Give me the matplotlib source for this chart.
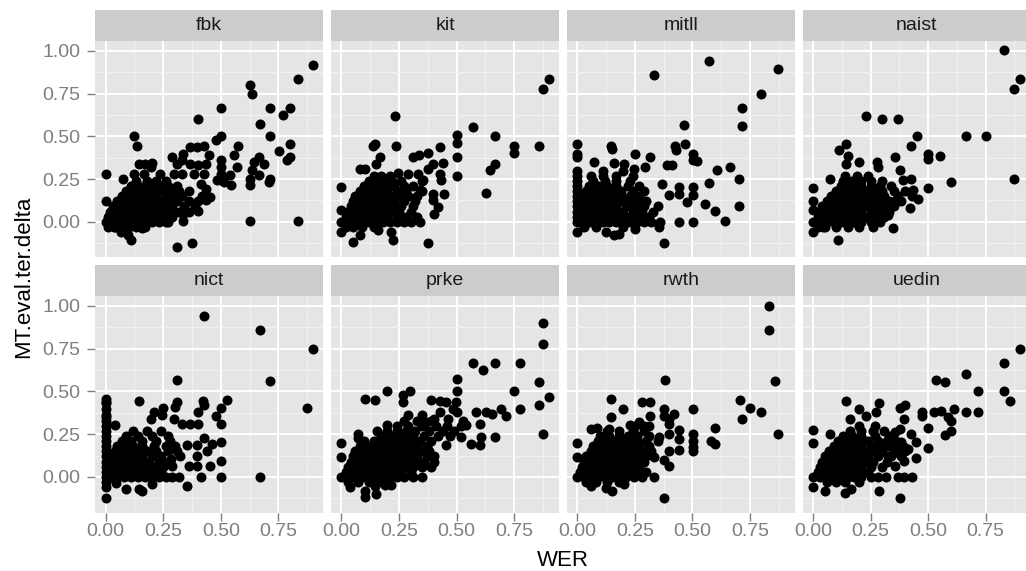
import matplotlib
matplotlib.use('Agg')
import matplotlib.pyplot as plt

plt.rcParams['font.family'] = ['Liberation Sans', 'DejaVu Sans']

panel_names = ["fbk", "kit", "mitll", "naist", "nict", "prke", "rwth", "uedin"]
x_ticks = [0.0, 0.25, 0.5, 0.75]
x_tick_labels = ["0.00", "0.25", "0.50", "0.75"]
y_ticks = [0.0, 0.25, 0.5, 0.75, 1.0]
y_tick_labels = ["0.00", "0.25", "0.50", "0.75", "1.00"]
x_minor = [0.125, 0.375, 0.625, 0.875]
y_minor = [-0.125, 0.125, 0.375, 0.625, 0.875]

fbk_points = [
    (0.900, 0.920), (0.834, 0.834), (0.626, 0.803), (0.637, 0.750), (0.501, 0.668), (0.715, 0.668),
    (0.802, 0.668), (0.770, 0.627), (0.400, 0.604), (0.669, 0.570), (0.501, 0.500), (0.481, 0.480),
    (0.715, 0.500), (0.802, 0.457), (0.751, 0.412), (0.799, 0.379), (0.788, 0.363), (0.123, 0.502),
    (0.134, 0.443), (0.574, 0.443), (0.559, 0.389), (0.368, 0.438), (0.397, 0.438), (0.429, 0.443),
    (0.337, 0.398), (0.448, 0.389), (0.289, 0.379), (0.665, 0.379), (0.643, 0.349), (0.686, 0.336),
    (0.366, 0.340), (0.400, 0.330), (0.434, 0.340), (0.501, 0.359), (0.501, 0.320), (0.501, 0.281),
    (0.501, 0.242), (0.484, 0.242), (0.513, 0.232), (0.542, 0.271), (0.571, 0.320), (0.545, 0.213),
    (0.636, 0.301), (0.626, 0.252), (0.626, 0.213), (0.665, 0.271), (0.708, 0.232), (0.715, 0.252),
    (0.626, 0.002), (0.834, 0.002), (0.003, 0.277), (0.074, 0.250), (0.003, 0.119), (0.145, 0.336),
    (0.173, 0.340), (0.202, 0.344), (0.123, 0.281), (0.166, 0.281), (0.238, 0.281), (0.195, 0.320),
    (0.296, 0.281), (0.332, 0.281), (0.311, 0.340), (0.332, 0.359), (0.383, 0.281), (0.426, 0.281),
    (0.412, 0.223), (0.434, 0.193), (0.455, 0.145), (0.434, 0.125), (0.400, 0.066), (0.337, 0.047),
    (0.337, 0.002), (0.308, -0.148), (0.376, -0.123), (0.108, -0.105), (0.097, -0.080), (0.159, -0.037),
    (0.065, -0.061), (0.036, -0.031), (0.260, -0.002),
    (0.01, -0.03), (0.04, -0.03), (0.07, -0.03), (0.10, -0.03), (0.13, -0.03), (0.17, -0.03),
    (0.00, 0.00), (0.02, 0.00), (0.05, 0.00), (0.08, 0.00), (0.11, 0.00), (0.14, 0.00), (0.17, 0.00),
    (0.20, 0.00), (0.23, 0.00), (0.27, 0.00),
    (0.01, 0.03), (0.04, 0.03), (0.07, 0.03), (0.10, 0.03), (0.13, 0.03), (0.16, 0.03), (0.19, 0.03),
    (0.22, 0.03), (0.25, 0.03), (0.29, 0.03),
    (0.02, 0.06), (0.05, 0.06), (0.08, 0.06), (0.11, 0.06), (0.14, 0.06), (0.17, 0.06), (0.20, 0.06),
    (0.24, 0.06), (0.28, 0.06), (0.32, 0.06), (0.36, 0.06),
    (0.03, 0.09), (0.06, 0.09), (0.09, 0.09), (0.12, 0.09), (0.15, 0.09), (0.18, 0.09), (0.21, 0.09),
    (0.25, 0.09), (0.29, 0.09), (0.34, 0.09), (0.39, 0.09),
    (0.05, 0.12), (0.08, 0.12), (0.11, 0.12), (0.14, 0.12), (0.17, 0.12), (0.20, 0.12), (0.23, 0.12),
    (0.27, 0.12), (0.31, 0.12), (0.36, 0.12), (0.40, 0.12),
    (0.07, 0.15), (0.10, 0.15), (0.13, 0.15), (0.16, 0.15), (0.19, 0.15), (0.22, 0.15), (0.26, 0.15),
    (0.30, 0.15), (0.33, 0.15), (0.42, 0.15),
    (0.09, 0.18), (0.12, 0.18), (0.15, 0.18), (0.18, 0.18), (0.21, 0.18), (0.25, 0.18), (0.29, 0.18),
    (0.32, 0.18), (0.36, 0.18),
    (0.11, 0.21), (0.14, 0.21), (0.17, 0.21), (0.20, 0.21), (0.24, 0.21), (0.27, 0.21), (0.31, 0.21),
    (0.13, 0.24), (0.18, 0.24), (0.22, 0.24), (0.26, 0.24),
]

kit_points = [
    (0.900, 0.834), (0.874, 0.779), (0.231, 0.617), (0.571, 0.555), (0.501, 0.506), (0.501, 0.461),
    (0.669, 0.500), (0.751, 0.443), (0.751, 0.402), (0.857, 0.445), (0.145, 0.453), (0.138, 0.445),
    (0.236, 0.445), (0.429, 0.438), (0.311, 0.379), (0.337, 0.389), (0.376, 0.402), (0.501, 0.379),
    (0.166, 0.379), (0.152, 0.340), (0.397, 0.340), (0.441, 0.344), (0.376, 0.311), (0.669, 0.336),
    (0.646, 0.301), (0.501, 0.266), (0.429, 0.281), (0.434, 0.242), (0.079, 0.311), (0.101, 0.311),
    (0.626, 0.168), (0.000, 0.203), (0.000, 0.070), (0.000, -0.061), (0.051, -0.119), (0.079, -0.080),
    (0.217, -0.061), (0.224, -0.109), (0.376, -0.123), (0.397, 0.164), (0.397, 0.125), (0.419, 0.086),
    (0.400, 0.047), (0.444, 0.164), (0.159, -0.047), (0.289, 0.281), (0.332, 0.281), (0.354, 0.242),
    (0.340, 0.188), (0.246, 0.285),
    (0.00, 0.00), (0.03, 0.00), (0.06, 0.00), (0.09, 0.00), (0.12, 0.00), (0.15, 0.00), (0.18, 0.00),
    (0.21, 0.00), (0.24, 0.00), (0.27, 0.00), (0.30, 0.00), (0.34, 0.00),
    (0.02, -0.03), (0.05, -0.03), (0.09, -0.03), (0.14, -0.03),
    (0.02, 0.03), (0.05, 0.03), (0.08, 0.03), (0.11, 0.03), (0.14, 0.03), (0.17, 0.03), (0.20, 0.03),
    (0.24, 0.03), (0.28, 0.03), (0.33, 0.03),
    (0.03, 0.06), (0.06, 0.06), (0.09, 0.06), (0.12, 0.06), (0.15, 0.06), (0.18, 0.06), (0.21, 0.06),
    (0.25, 0.06), (0.30, 0.06),
    (0.04, 0.09), (0.07, 0.09), (0.10, 0.09), (0.13, 0.09), (0.16, 0.09), (0.19, 0.09), (0.22, 0.09),
    (0.26, 0.09), (0.31, 0.09),
    (0.05, 0.12), (0.08, 0.12), (0.11, 0.12), (0.14, 0.12), (0.17, 0.12), (0.20, 0.12), (0.23, 0.12),
    (0.27, 0.12), (0.32, 0.12),
    (0.06, 0.15), (0.09, 0.15), (0.12, 0.15), (0.15, 0.15), (0.18, 0.15), (0.21, 0.15), (0.25, 0.15),
    (0.29, 0.15), (0.33, 0.15),
    (0.08, 0.18), (0.11, 0.18), (0.14, 0.18), (0.17, 0.18), (0.20, 0.18), (0.24, 0.18), (0.28, 0.18),
    (0.35, 0.18),
    (0.10, 0.21), (0.13, 0.21), (0.16, 0.21), (0.19, 0.21), (0.23, 0.21), (0.27, 0.21), (0.31, 0.21),
    (0.12, 0.24), (0.15, 0.24), (0.18, 0.24), (0.22, 0.24), (0.26, 0.24), (0.35, 0.24),
    (0.14, 0.27), (0.17, 0.27), (0.21, 0.27),
]

mitll_points = [
    (0.571, 0.939), (0.874, 0.891), (0.334, 0.857), (0.799, 0.750), (0.715, 0.668), (0.715, 0.559),
    (0.462, 0.564), (0.470, 0.453), (0.426, 0.443), (0.429, 0.418), (0.501, 0.398), (0.501, 0.363),
    (0.520, 0.355), (0.412, 0.330), (0.390, 0.330), (0.608, 0.301), (0.665, 0.320), (0.701, 0.250),
    (0.571, 0.227), (0.501, 0.203), (0.501, 0.154), (0.444, 0.203), (0.444, 0.164), (0.478, 0.115),
    (0.556, 0.105), (0.600, 0.066), (0.701, 0.092), (0.643, 0.002), (0.444, 0.000), (0.501, 0.000),
    (0.368, 0.223), (0.400, 0.154), (0.376, -0.123), (0.000, 0.457), (0.000, 0.398), (0.000, 0.379),
    (0.145, 0.443), (0.152, 0.428), (0.250, 0.398), (0.318, 0.379), (0.072, 0.350), (0.159, 0.344),
    (0.202, 0.336), (0.246, 0.311), (0.296, 0.320), (0.123, -0.061), (0.159, -0.076), (0.181, -0.070),
    (0.000, -0.057), (0.250, -0.041), (0.354, -0.031),
    (0.00, 0.00), (0.00, 0.03), (0.00, 0.06), (0.00, 0.09), (0.00, 0.12), (0.00, 0.15), (0.00, 0.18),
    (0.00, 0.21), (0.00, 0.24), (0.00, 0.27), (0.00, 0.30),
    (0.02, 0.00), (0.05, 0.00), (0.08, 0.00), (0.11, 0.00), (0.14, 0.00), (0.17, 0.00), (0.20, 0.00),
    (0.23, 0.00), (0.26, 0.00), (0.29, 0.00), (0.32, 0.00), (0.36, 0.00),
    (0.02, 0.03), (0.05, 0.03), (0.08, 0.03), (0.11, 0.03), (0.14, 0.03), (0.17, 0.03), (0.20, 0.03),
    (0.23, 0.03), (0.27, 0.03), (0.31, 0.03),
    (0.02, 0.06), (0.05, 0.06), (0.08, 0.06), (0.11, 0.06), (0.14, 0.06), (0.17, 0.06), (0.20, 0.06),
    (0.24, 0.06), (0.28, 0.06), (0.33, 0.06),
    (0.02, 0.09), (0.05, 0.09), (0.08, 0.09), (0.11, 0.09), (0.14, 0.09), (0.17, 0.09), (0.21, 0.09),
    (0.25, 0.09), (0.29, 0.09), (0.35, 0.09),
    (0.03, 0.12), (0.06, 0.12), (0.09, 0.12), (0.12, 0.12), (0.15, 0.12), (0.18, 0.12), (0.22, 0.12),
    (0.26, 0.12), (0.30, 0.12),
    (0.03, 0.15), (0.06, 0.15), (0.09, 0.15), (0.12, 0.15), (0.15, 0.15), (0.19, 0.15), (0.23, 0.15),
    (0.27, 0.15),
    (0.04, 0.18), (0.07, 0.18), (0.11, 0.18), (0.15, 0.18), (0.19, 0.18), (0.24, 0.18), (0.29, 0.18),
    (0.05, 0.21), (0.09, 0.21), (0.13, 0.21), (0.17, 0.21), (0.22, 0.21), (0.27, 0.21),
    (0.07, 0.24), (0.12, 0.24), (0.17, 0.24), (0.23, 0.24),
    (0.06, 0.27), (0.11, 0.27), (0.17, 0.27), (0.24, 0.27),
    (0.11, 0.30), (0.20, 0.30),
    (0.03, -0.03), (0.08, -0.03), (0.20, -0.03),
]

naist_points = [
    (0.831, 1.004), (0.900, 0.834), (0.874, 0.779), (0.231, 0.617), (0.299, 0.604), (0.371, 0.604),
    (0.452, 0.500), (0.665, 0.500), (0.751, 0.500), (0.426, 0.443), (0.499, 0.398), (0.499, 0.369),
    (0.553, 0.385), (0.354, 0.379), (0.874, 0.250), (0.600, 0.232), (0.499, 0.199), (0.376, 0.301),
    (0.142, 0.453), (0.111, 0.418), (0.152, 0.383), (0.145, 0.340), (0.198, 0.350), (0.276, 0.350),
    (0.282, 0.320), (0.072, 0.252), (0.000, 0.199), (0.000, 0.119), (0.000, 0.070), (0.000, -0.057),
    (0.108, -0.109), (0.347, -0.037), (0.419, 0.082), (0.455, 0.135), (0.434, 0.184), (0.390, 0.242),
    (0.426, 0.252), (0.361, 0.129), (0.318, 0.105), (0.325, 0.037), (0.043, -0.031),
    (0.02, -0.03), (0.05, -0.03), (0.10, -0.03), (0.15, -0.03), (0.20, -0.03), (0.26, -0.03),
    (0.00, 0.00), (0.03, 0.00), (0.06, 0.00), (0.09, 0.00), (0.12, 0.00), (0.15, 0.00), (0.18, 0.00),
    (0.21, 0.00), (0.25, 0.00), (0.29, 0.00),
    (0.02, 0.03), (0.05, 0.03), (0.08, 0.03), (0.11, 0.03), (0.14, 0.03), (0.17, 0.03), (0.20, 0.03),
    (0.23, 0.03), (0.27, 0.03), (0.31, 0.03),
    (0.03, 0.06), (0.06, 0.06), (0.09, 0.06), (0.12, 0.06), (0.15, 0.06), (0.18, 0.06), (0.21, 0.06),
    (0.25, 0.06), (0.29, 0.06), (0.33, 0.06),
    (0.04, 0.09), (0.07, 0.09), (0.10, 0.09), (0.13, 0.09), (0.16, 0.09), (0.19, 0.09), (0.22, 0.09),
    (0.26, 0.09), (0.30, 0.09), (0.35, 0.09),
    (0.06, 0.12), (0.09, 0.12), (0.12, 0.12), (0.15, 0.12), (0.18, 0.12), (0.21, 0.12), (0.24, 0.12),
    (0.28, 0.12), (0.33, 0.12), (0.38, 0.12),
    (0.08, 0.15), (0.11, 0.15), (0.14, 0.15), (0.17, 0.15), (0.20, 0.15), (0.23, 0.15), (0.27, 0.15),
    (0.31, 0.15), (0.37, 0.15), (0.43, 0.15),
    (0.10, 0.18), (0.13, 0.18), (0.16, 0.18), (0.19, 0.18), (0.22, 0.18), (0.26, 0.18), (0.30, 0.18),
    (0.35, 0.18), (0.40, 0.18),
    (0.12, 0.21), (0.15, 0.21), (0.18, 0.21), (0.21, 0.21), (0.25, 0.21), (0.29, 0.21), (0.34, 0.21),
    (0.13, 0.24), (0.17, 0.24), (0.21, 0.24), (0.25, 0.24), (0.30, 0.24),
    (0.14, 0.27), (0.19, 0.27), (0.24, 0.27),
]

nict_points = [
    (0.429, 0.939), (0.669, 0.857), (0.900, 0.750), (0.308, 0.564), (0.715, 0.559), (0.874, 0.402),
    (0.527, 0.451), (0.423, 0.443), (0.429, 0.418), (0.501, 0.402), (0.481, 0.355), (0.501, 0.311),
    (0.400, 0.379), (0.308, 0.438), (0.303, 0.408), (0.145, 0.443), (0.250, 0.402), (0.246, 0.363),
    (0.195, 0.340), (0.210, 0.379), (0.296, 0.336), (0.332, 0.311), (0.368, 0.311), (0.400, 0.311),
    (0.000, 0.457), (0.000, 0.438), (0.000, 0.350), (0.039, 0.301), (0.501, 0.203), (0.501, 0.092),
    (0.501, 0.000), (0.455, 0.066), (0.412, 0.000), (0.669, 0.000), (0.354, -0.055), (0.000, -0.125),
    (0.000, -0.057), (0.043, -0.037), (0.087, -0.070), (0.145, -0.070), (0.159, -0.080), (0.202, -0.041),
    (0.426, 0.227), (0.441, 0.154), (0.462, 0.193), (0.397, 0.184), (0.397, 0.125), (0.361, 0.066),
    (0.397, 0.066), (0.354, 0.184), (0.325, 0.125), (0.282, 0.105), (0.289, 0.066),
    (0.00, -0.03), (0.00, 0.00), (0.00, 0.03), (0.00, 0.06), (0.00, 0.09), (0.00, 0.12), (0.00, 0.15),
    (0.00, 0.18), (0.00, 0.21), (0.00, 0.24), (0.00, 0.27), (0.00, 0.30), (0.00, 0.33), (0.00, 0.36),
    (0.00, 0.40), (0.00, 0.43),
    (0.02, 0.00), (0.05, 0.00), (0.08, 0.00), (0.11, 0.00), (0.14, 0.00), (0.17, 0.00), (0.20, 0.00),
    (0.23, 0.00), (0.26, 0.00), (0.29, 0.00), (0.32, 0.00),
    (0.02, 0.03), (0.05, 0.03), (0.08, 0.03), (0.11, 0.03), (0.14, 0.03), (0.17, 0.03), (0.20, 0.03),
    (0.24, 0.03),
    (0.02, 0.06), (0.05, 0.06), (0.08, 0.06), (0.11, 0.06), (0.14, 0.06), (0.17, 0.06), (0.21, 0.06),
    (0.25, 0.06),
    (0.03, 0.09), (0.06, 0.09), (0.09, 0.09), (0.12, 0.09), (0.15, 0.09), (0.19, 0.09), (0.23, 0.09),
    (0.27, 0.09),
    (0.03, 0.12), (0.06, 0.12), (0.09, 0.12), (0.12, 0.12), (0.16, 0.12), (0.20, 0.12), (0.24, 0.12),
    (0.04, 0.15), (0.07, 0.15), (0.10, 0.15), (0.14, 0.15), (0.18, 0.15), (0.22, 0.15), (0.27, 0.15),
    (0.31, 0.15),
    (0.05, 0.18), (0.08, 0.18), (0.12, 0.18), (0.16, 0.18), (0.21, 0.18), (0.26, 0.18), (0.30, 0.18),
    (0.07, 0.21), (0.11, 0.21), (0.16, 0.21), (0.22, 0.21), (0.28, 0.21),
    (0.09, 0.24), (0.14, 0.24), (0.20, 0.24), (0.27, 0.24),
    (0.12, 0.27), (0.18, 0.27), (0.24, 0.27),
]

prke_points = [
    (0.874, 0.900), (0.874, 0.779), (0.571, 0.668), (0.614, 0.623), (0.669, 0.668), (0.777, 0.668),
    (0.501, 0.570), (0.501, 0.500), (0.857, 0.555), (0.751, 0.500), (0.900, 0.467), (0.857, 0.418),
    (0.777, 0.398), (0.874, 0.250), (0.101, 0.453), (0.145, 0.447), (0.199, 0.500), (0.299, 0.500),
    (0.267, 0.477), (0.267, 0.438), (0.390, 0.451), (0.426, 0.443), (0.455, 0.438), (0.499, 0.438),
    (0.484, 0.398), (0.501, 0.379), (0.585, 0.379), (0.626, 0.379), (0.655, 0.369), (0.692, 0.398),
    (0.715, 0.354), (0.600, 0.307), (0.607, 0.232), (0.600, 0.184), (0.564, 0.193), (0.669, 0.232),
    (0.520, 0.232), (0.426, 0.379), (0.462, 0.340), (0.527, 0.330), (0.542, 0.301), (0.455, 0.188),
    (0.400, 0.340), (0.368, 0.320), (0.000, 0.199), (0.000, 0.119), (0.072, 0.252), (0.072, 0.227),
    (0.155, 0.271), (0.199, 0.305), (0.036, -0.061), (0.101, -0.080), (0.101, -0.119), (0.152, -0.100),
    (0.145, -0.051), (0.188, -0.047), (0.217, -0.047),
    (0.03, -0.03), (0.07, -0.03), (0.12, -0.03), (0.16, -0.03),
    (0.00, 0.00), (0.03, 0.00), (0.06, 0.00), (0.09, 0.00), (0.12, 0.00), (0.15, 0.00), (0.18, 0.00),
    (0.21, 0.00), (0.24, 0.00), (0.27, 0.00), (0.31, 0.00), (0.35, 0.00),
    (0.02, 0.03), (0.05, 0.03), (0.08, 0.03), (0.11, 0.03), (0.14, 0.03), (0.17, 0.03), (0.20, 0.03),
    (0.23, 0.03), (0.26, 0.03), (0.30, 0.03),
    (0.03, 0.06), (0.06, 0.06), (0.09, 0.06), (0.12, 0.06), (0.15, 0.06), (0.18, 0.06), (0.21, 0.06),
    (0.24, 0.06), (0.27, 0.06), (0.31, 0.06), (0.35, 0.06), (0.39, 0.06),
    (0.04, 0.09), (0.07, 0.09), (0.10, 0.09), (0.13, 0.09), (0.16, 0.09), (0.19, 0.09), (0.22, 0.09),
    (0.25, 0.09), (0.28, 0.09), (0.32, 0.09), (0.36, 0.09), (0.40, 0.09),
    (0.05, 0.12), (0.08, 0.12), (0.11, 0.12), (0.14, 0.12), (0.17, 0.12), (0.20, 0.12), (0.23, 0.12),
    (0.26, 0.12), (0.29, 0.12), (0.33, 0.12), (0.37, 0.12), (0.40, 0.12),
    (0.06, 0.15), (0.09, 0.15), (0.12, 0.15), (0.15, 0.15), (0.18, 0.15), (0.21, 0.15), (0.24, 0.15),
    (0.27, 0.15), (0.30, 0.15), (0.34, 0.15), (0.38, 0.15),
    (0.08, 0.18), (0.11, 0.18), (0.14, 0.18), (0.17, 0.18), (0.20, 0.18), (0.23, 0.18), (0.26, 0.18),
    (0.29, 0.18), (0.33, 0.18), (0.37, 0.18),
    (0.10, 0.21), (0.14, 0.21), (0.18, 0.21), (0.21, 0.21), (0.24, 0.21), (0.27, 0.21), (0.30, 0.21),
    (0.34, 0.21), (0.39, 0.21),
    (0.17, 0.24), (0.21, 0.24), (0.24, 0.24), (0.27, 0.24), (0.31, 0.24), (0.36, 0.24), (0.42, 0.24),
    (0.47, 0.24),
    (0.20, 0.27), (0.24, 0.27), (0.28, 0.27), (0.32, 0.27), (0.38, 0.27), (0.44, 0.27), (0.49, 0.27),
    (0.24, 0.30), (0.29, 0.30), (0.35, 0.30), (0.41, 0.30), (0.46, 0.30), (0.52, 0.30),
    (0.27, 0.33), (0.33, 0.33), (0.39, 0.33),
    (0.29, 0.36), (0.35, 0.36),
]

rwth_points = [
    (0.831, 1.000), (0.831, 0.857), (0.857, 0.559), (0.383, 0.564), (0.874, 0.250), (0.705, 0.451),
    (0.751, 0.402), (0.799, 0.379), (0.715, 0.336), (0.600, 0.287), (0.582, 0.213), (0.600, 0.193),
    (0.501, 0.398), (0.501, 0.252), (0.501, 0.213), (0.501, 0.174), (0.501, 0.154), (0.444, 0.277),
    (0.444, 0.223), (0.444, 0.158), (0.400, 0.154), (0.400, 0.252), (0.376, 0.398), (0.376, 0.359),
    (0.397, 0.336), (0.419, 0.369), (0.397, 0.311), (0.282, 0.438), (0.318, 0.438), (0.145, 0.453),
    (0.199, 0.398), (0.145, 0.350), (0.318, 0.354), (0.058, 0.281), (0.087, 0.285), (0.137, 0.281),
    (0.000, 0.199), (0.000, 0.119), (0.376, -0.123), (0.123, -0.064), (0.152, -0.080), (0.058, -0.051),
    (0.202, -0.041), (0.332, 0.000), (0.282, 0.000), (0.246, 0.000), (0.397, 0.066), (0.376, 0.100),
    (0.332, 0.115), (0.354, 0.232), (0.231, 0.305), (0.267, 0.320), (0.289, 0.295),
    (0.04, -0.03), (0.08, -0.03), (0.13, -0.03), (0.18, -0.03),
    (0.00, 0.00), (0.03, 0.00), (0.06, 0.00), (0.09, 0.00), (0.12, 0.00), (0.15, 0.00), (0.18, 0.00),
    (0.21, 0.00),
    (0.01, 0.03), (0.04, 0.03), (0.07, 0.03), (0.10, 0.03), (0.13, 0.03), (0.16, 0.03), (0.19, 0.03),
    (0.22, 0.03), (0.26, 0.03), (0.30, 0.03),
    (0.02, 0.06), (0.05, 0.06), (0.08, 0.06), (0.11, 0.06), (0.14, 0.06), (0.17, 0.06), (0.20, 0.06),
    (0.23, 0.06), (0.27, 0.06),
    (0.03, 0.09), (0.06, 0.09), (0.09, 0.09), (0.12, 0.09), (0.15, 0.09), (0.18, 0.09), (0.21, 0.09),
    (0.25, 0.09), (0.29, 0.09),
    (0.04, 0.12), (0.07, 0.12), (0.10, 0.12), (0.13, 0.12), (0.16, 0.12), (0.19, 0.12), (0.22, 0.12),
    (0.26, 0.12), (0.30, 0.12),
    (0.06, 0.15), (0.09, 0.15), (0.12, 0.15), (0.15, 0.15), (0.18, 0.15), (0.21, 0.15), (0.24, 0.15),
    (0.28, 0.15), (0.32, 0.15),
    (0.07, 0.18), (0.10, 0.18), (0.13, 0.18), (0.16, 0.18), (0.19, 0.18), (0.23, 0.18), (0.27, 0.18),
    (0.31, 0.18),
    (0.09, 0.21), (0.12, 0.21), (0.15, 0.21), (0.18, 0.21), (0.22, 0.21), (0.26, 0.21), (0.30, 0.21),
    (0.35, 0.21),
    (0.10, 0.24), (0.14, 0.24), (0.18, 0.24), (0.22, 0.24), (0.26, 0.24), (0.31, 0.24),
    (0.13, 0.27), (0.18, 0.27), (0.24, 0.27), (0.29, 0.27),
    (0.25, 0.30), (0.31, 0.30),
]

uedin_points = [
    (0.900, 0.750), (0.831, 0.668), (0.665, 0.604), (0.535, 0.564), (0.571, 0.555), (0.715, 0.500),
    (0.831, 0.500), (0.857, 0.445), (0.665, 0.379), (0.715, 0.379), (0.614, 0.398), (0.585, 0.350),
    (0.600, 0.330), (0.527, 0.379), (0.556, 0.385), (0.473, 0.379), (0.473, 0.359), (0.600, 0.271),
    (0.571, 0.248), (0.499, 0.287), (0.499, 0.168), (0.448, 0.203), (0.426, 0.252), (0.448, 0.109),
    (0.397, 0.096), (0.376, 0.402), (0.400, 0.422), (0.397, 0.336), (0.145, 0.443), (0.199, 0.398),
    (0.285, 0.432), (0.275, 0.379), (0.159, 0.336), (0.231, 0.354), (0.000, 0.277), (0.000, 0.199),
    (0.072, 0.252), (0.000, -0.057), (0.051, -0.080), (0.137, -0.094), (0.166, -0.070), (0.285, -0.080),
    (0.376, -0.125), (0.282, 0.000), (0.318, 0.000), (0.368, 0.000), (0.397, 0.000), (0.429, 0.000),
    (0.354, 0.066), (0.325, 0.125), (0.361, 0.145), (0.383, 0.203), (0.354, 0.262), (0.376, 0.281),
    (0.397, 0.174), (0.412, 0.164),
    (0.06, -0.03), (0.10, -0.03), (0.14, -0.03), (0.20, -0.03),
    (0.00, 0.00), (0.03, 0.00), (0.06, 0.00), (0.09, 0.00), (0.12, 0.00), (0.15, 0.00), (0.18, 0.00),
    (0.21, 0.00), (0.25, 0.00),
    (0.02, 0.03), (0.05, 0.03), (0.08, 0.03), (0.11, 0.03), (0.14, 0.03), (0.17, 0.03), (0.20, 0.03),
    (0.24, 0.03),
    (0.03, 0.06), (0.06, 0.06), (0.09, 0.06), (0.12, 0.06), (0.15, 0.06), (0.18, 0.06), (0.21, 0.06),
    (0.25, 0.06), (0.30, 0.06),
    (0.04, 0.09), (0.07, 0.09), (0.10, 0.09), (0.13, 0.09), (0.16, 0.09), (0.19, 0.09), (0.22, 0.09),
    (0.26, 0.09), (0.32, 0.09),
    (0.05, 0.12), (0.08, 0.12), (0.11, 0.12), (0.14, 0.12), (0.17, 0.12), (0.20, 0.12), (0.24, 0.12),
    (0.28, 0.12), (0.34, 0.12), (0.38, 0.12),
    (0.07, 0.15), (0.10, 0.15), (0.13, 0.15), (0.16, 0.15), (0.19, 0.15), (0.22, 0.15), (0.26, 0.15),
    (0.30, 0.15), (0.35, 0.15), (0.40, 0.15),
    (0.09, 0.18), (0.12, 0.18), (0.15, 0.18), (0.18, 0.18), (0.21, 0.18), (0.25, 0.18), (0.29, 0.18),
    (0.33, 0.18), (0.37, 0.18),
    (0.11, 0.21), (0.14, 0.21), (0.17, 0.21), (0.20, 0.21), (0.24, 0.21), (0.28, 0.21), (0.32, 0.21),
    (0.36, 0.21),
    (0.13, 0.24), (0.17, 0.24), (0.21, 0.24), (0.27, 0.24), (0.33, 0.24),
    (0.16, 0.27), (0.21, 0.27), (0.26, 0.27), (0.31, 0.27),
    (0.20, 0.30), (0.27, 0.30),
]

panel_points = [fbk_points, kit_points, mitll_points, naist_points,
                nict_points, prke_points, rwth_points, uedin_points]

W, H = 1026, 571
fig = plt.figure(figsize=(W / 100, H / 100), dpi=100)
fig.patch.set_facecolor('white')

lefts = [95.3, 331.1, 566.9, 802.7]
pw = 227.9
rows = [(41.0, 257.3, 10.0), (296.0, 512.5, 265.0)]

for i, (name, pts) in enumerate(zip(panel_names, panel_points)):
    r, c = divmod(i, 4)
    top, bot, stop = rows[r]
    ax = fig.add_axes([lefts[c] / W, (H - bot) / H, pw / W, (bot - top) / H])
    ax.set_facecolor('#e5e5e5')
    ax.set_xlim(-0.045, 0.945)
    ax.set_ylim(-0.2075, 1.0575)
    ax.set_xticks(x_ticks)
    ax.set_yticks(y_ticks)
    ax.set_xticks(x_minor, minor=True)
    ax.set_yticks(y_minor, minor=True)
    ax.set_xticklabels(x_tick_labels)
    ax.set_yticklabels(y_tick_labels)
    ax.grid(which='major', color='white', lw=1.4)
    ax.grid(which='minor', color='#f2f2f2', lw=0.7)
    ax.set_axisbelow(True)
    for s in ax.spines.values():
        s.set_visible(False)
    xs = [p[0] for p in pts]
    ys = [p[1] for p in pts]
    ax.scatter(xs, ys, s=52, c='black', linewidths=0, zorder=3)
    ax.tick_params(which='minor', length=0)
    ax.tick_params(which='major', length=5.5, width=1.0, color='#7f7f7f',
                   labelcolor='#7f7f7f', labelsize=14)
    ax.tick_params(axis='y', pad=5)
    ax.tick_params(axis='x', pad=2)
    if c != 0:
        ax.tick_params(axis='y', length=0, labelleft=False)
    if r != 1:
        ax.tick_params(axis='x', length=0, labelbottom=False)

    sax = fig.add_axes([lefts[c] / W, (H - top) / H, pw / W, (top - stop) / H])
    sax.set_facecolor('#cccccc')
    sax.set_xticks([])
    sax.set_yticks([])
    for s in sax.spines.values():
        s.set_visible(False)
    sax.text(0.5, 0.5, name, ha='center', va='center', fontsize=14,
             color='#1a1a1a', transform=sax.transAxes)

fig.text(563 / W, (H - 566) / H, 'WER', ha='center', va='baseline', fontsize=16)
fig.text(24 / W, (H - 276.8) / H, 'MT.eval.ter.delta', rotation=90,
         ha='center', va='center', fontsize=16)

fig.savefig('out.png', dpi=100)
